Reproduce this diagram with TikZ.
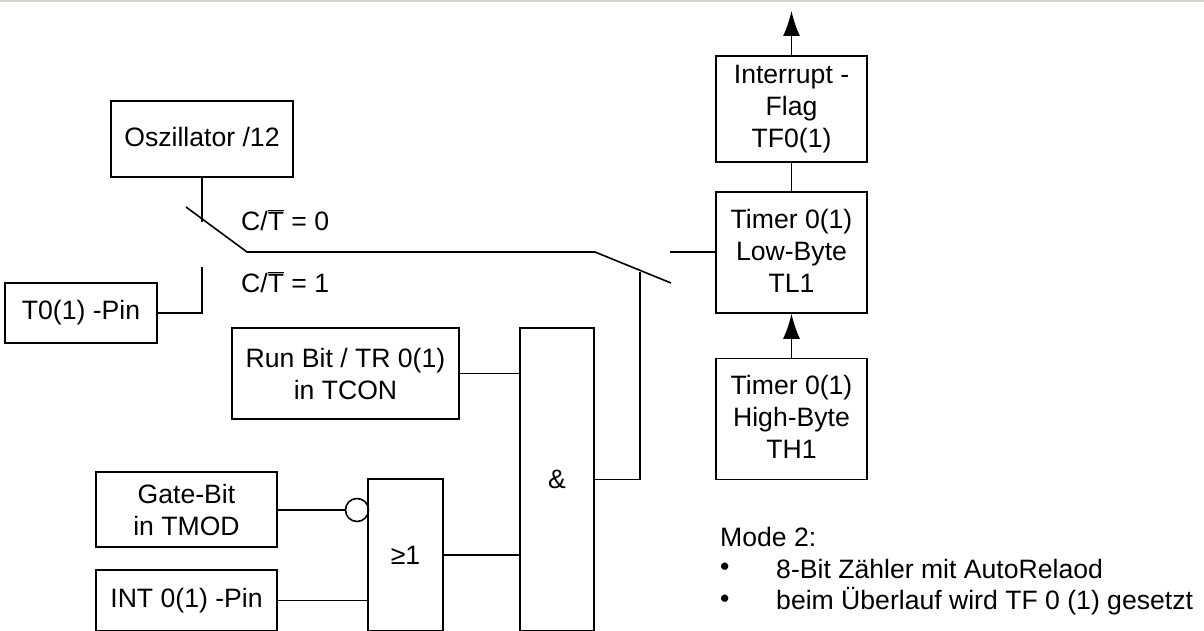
\documentclass[tikz,border=0pt]{standalone}
\usepackage{fontspec}
\setmainfont{Liberation Sans}
\usetikzlibrary{arrows.meta}
\definecolor{topline}{HTML}{D8D5CC}
\tikzset{
  blockbox/.style={draw, line width=1.6pt, align=center, inner sep=0pt, font=\fontsize{26.6}{32}\selectfont},
  wire/.style={line width=1.6pt},
  txtlabel/.style={inner sep=0pt, anchor=west, font=\fontsize{26.6}{32}\selectfont},
}
\begin{document}
\begin{tikzpicture}[x=1pt, y=-1pt, >=latex]
\useasboundingbox (0,0) rectangle (1204,631);
\fill[topline] (0,0) rectangle (1204,2);
% blocks
\node[blockbox, text depth=4pt, minimum width=182pt, minimum height=76pt] (osc) at (202,139) {Oszillator /12};
\node[blockbox, minimum width=152pt, minimum height=60pt] (pin) at (81,313) {T0(1) -Pin};
\node[blockbox, minimum width=227pt, minimum height=91pt] (run) at (345.5,373.5) {Run Bit / TR 0(1)\\in TCON};
\node[blockbox, minimum width=181pt, minimum height=75pt] (gate) at (186.5,509.5) {Gate-Bit\\in TMOD};
\node[blockbox, minimum width=181pt, minimum height=61pt] (int) at (186.5,600.5) {INT 0(1) -Pin};
\node[blockbox, minimum width=75pt, minimum height=152pt] (or) at (405.5,555) {≥1};
\node[blockbox, minimum width=74pt, minimum height=303pt] (and) at (557,479.5) {\&};
\node[blockbox, minimum width=151pt, minimum height=106pt] (flag) at (791.5,109) {Interrupt -\\Flag\\TF0(1)};
\node[blockbox, text depth=4pt, minimum width=151pt, minimum height=121pt] (tl) at (791.5,252.5) {Timer 0(1)\\Low-Byte\\TL1};
\node[blockbox, text depth=4pt, minimum width=151pt, minimum height=121pt] (th) at (791.5,419) {Timer 0(1)\\High-Byte\\TH1};
\node[draw, circle, wire, minimum size=23pt, inner sep=0pt] (inv) at (357,510) {};
% free ends of the switches
\coordinate (oscend) at (202,222);
\coordinate (pinend) at (202,267);
\coordinate (swa) at (186,207);
\coordinate (swb) at (247,252);
\coordinate (swc) at (595,252);
\coordinate (swd) at (671,283);
\coordinate (tlend) at (670,252);
\coordinate (andend) at (640,272);
\coordinate (top) at (791.5,11);
% wires
\draw[wire] (osc.south -| oscend) -- (oscend);
\draw[wire] (pin.east) -| (pinend);
\draw[wire] (swa) -- (swb) -- (swc) -- (swd);
\draw[wire] (tlend) -- (tl.west |- tlend);
\draw[wire] (run.east) -- (and.west |- run.east);
\draw[wire] (gate.east |- inv) -- (inv);
\draw[wire] (int.east) -- (or.west |- int.east);
\draw[wire] (or.east) -- (and.west |- or.east);
\draw[wire] (and.east) -| (andend);
\draw[wire] (tl.north) -- (flag.south);
\draw[wire, -{Latex[length=25pt, width=17pt]}] (flag.north) -- (top);
\draw[wire, -{Latex[length=25pt, width=17pt]}] (th.north) -- (tl.south);
% labels
\node[txtlabel] (c0) at (241,220) {C/\(\overline{\mbox{T}}\) = 0};
\node[txtlabel] (c1) at (241,282) {C/\(\overline{\mbox{T}}\) = 1};
\node[txtlabel] (mode) at (720,537) {Mode 2:};
\node[txtlabel] (bula) at (720,569) {•};
\node[txtlabel] (bulb) at (720,601) {•};
\node[txtlabel] (texta) at (776,569) {8-Bit Zähler mit AutoRelaod};
\node[txtlabel] (textb) at (776,601) {beim Überlauf wird TF 0 (1) gesetzt};
\end{tikzpicture}
\end{document}
